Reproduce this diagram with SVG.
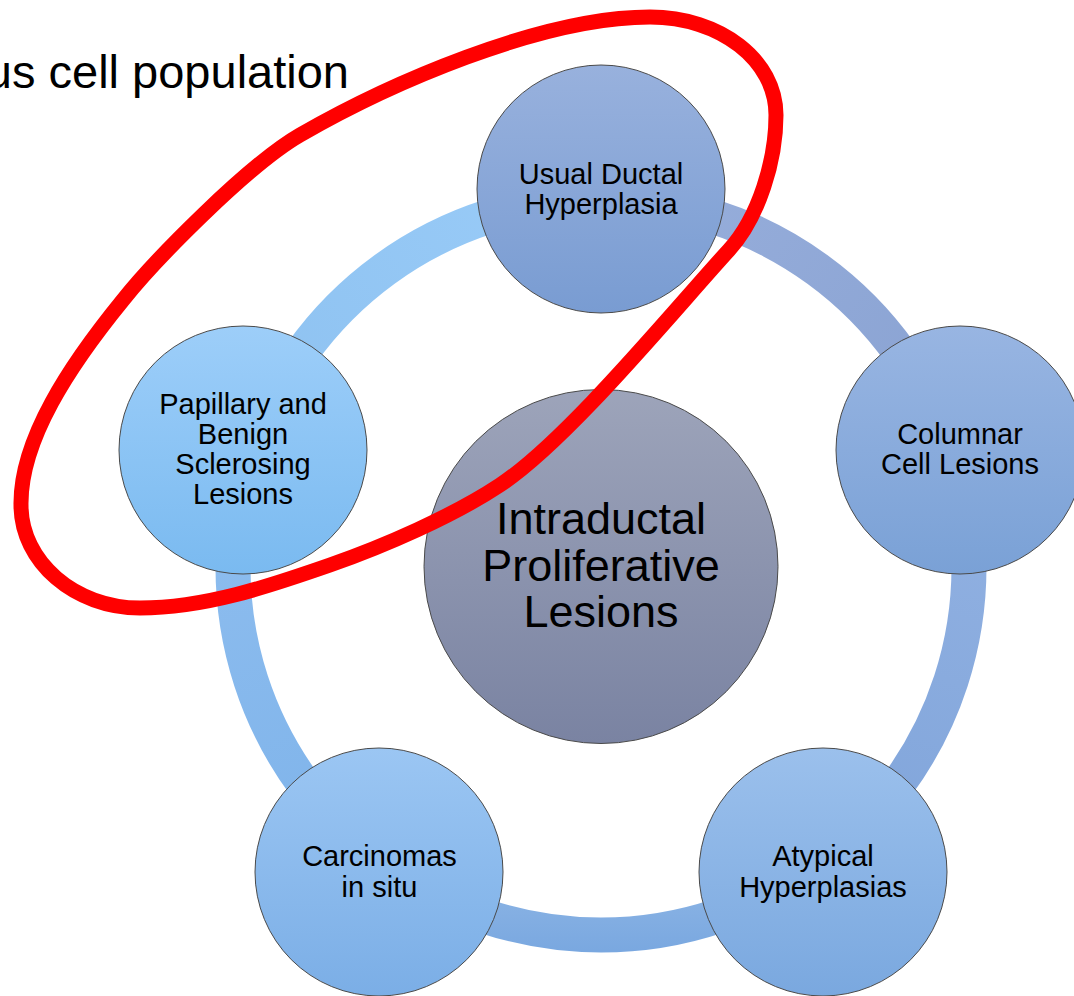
<svg xmlns="http://www.w3.org/2000/svg" width="1074" height="996" viewBox="0 0 1074 996">
<style>
.node{stroke:#4a4a4a;stroke-width:1}
.lbl{font-family:"Liberation Sans",Arial,sans-serif;font-size:29px;fill:#000;text-anchor:middle}
.big{font-family:"Liberation Sans",Arial,sans-serif;font-size:45px;fill:#000;text-anchor:middle}
.ring{fill:none;stroke-width:35}
</style>
<defs>
<linearGradient id="gUsual" x1="0" y1="0" x2="0" y2="1"><stop offset="0" stop-color="#98B1DD"/><stop offset="1" stop-color="#799CD2"/></linearGradient>
<linearGradient id="gCol" x1="0" y1="0" x2="0" y2="1"><stop offset="0" stop-color="#98B5E2"/><stop offset="1" stop-color="#7AA1D6"/></linearGradient>
<linearGradient id="gAty" x1="0" y1="0" x2="0" y2="1"><stop offset="0" stop-color="#9BC0EC"/><stop offset="1" stop-color="#7AA8DF"/></linearGradient>
<linearGradient id="gCar" x1="0" y1="0" x2="0" y2="1"><stop offset="0" stop-color="#9BC6F3"/><stop offset="1" stop-color="#7BAEE6"/></linearGradient>
<linearGradient id="gPap" x1="0" y1="0" x2="0" y2="1"><stop offset="0" stop-color="#9DCEF9"/><stop offset="1" stop-color="#7ABAF0"/></linearGradient>
<linearGradient id="gCen" x1="0" y1="0" x2="0" y2="1"><stop offset="0" stop-color="#9DA4BA"/><stop offset="1" stop-color="#7A83A2"/></linearGradient>
<linearGradient id="r1" gradientUnits="userSpaceOnUse" x1="601" y1="199" x2="951" y2="453"><stop offset="0" stop-color="#98AFDC"/><stop offset="1" stop-color="#89A2D2"/></linearGradient>
<linearGradient id="r2" gradientUnits="userSpaceOnUse" x1="951" y1="453" x2="817" y2="865"><stop offset="0" stop-color="#93B2E2"/><stop offset="1" stop-color="#7FA4DA"/></linearGradient>
<linearGradient id="r3" gradientUnits="userSpaceOnUse" x1="0" y1="890" x2="0" y2="950"><stop offset="0" stop-color="#8AB3E4"/><stop offset="1" stop-color="#7AA8E0"/></linearGradient>
<linearGradient id="r4" gradientUnits="userSpaceOnUse" x1="385" y1="865" x2="251" y2="453"><stop offset="0" stop-color="#7EB3EA"/><stop offset="1" stop-color="#8FBEEF"/></linearGradient>
<linearGradient id="r5" gradientUnits="userSpaceOnUse" x1="251" y1="453" x2="601" y2="199"><stop offset="0" stop-color="#8DC1F0"/><stop offset="1" stop-color="#9ACCF8"/></linearGradient>
</defs>
<rect width="1074" height="996" fill="#fff"/>
<text x="349" y="88" font-family="Liberation Sans, Arial, sans-serif" font-size="47" text-anchor="end" fill="#000">us cell population</text>
<g id="connectors">
<path class="ring" stroke="url(#r1)" d="M601,199 A368,368 0 0 1 951,453.3"/>
<path class="ring" stroke="url(#r2)" d="M951,453.3 A368,368 0 0 1 817.3,864.7"/>
<path class="ring" stroke="url(#r3)" d="M817.3,864.7 A368,368 0 0 1 384.7,864.7"/>
<path class="ring" stroke="url(#r4)" d="M384.7,864.7 A368,368 0 0 1 251,453.3"/>
<path class="ring" stroke="url(#r5)" d="M251,453.3 A368,368 0 0 1 601,199"/>
</g>
<g id="center">
<circle class="node" cx="601" cy="566.5" r="177" fill="url(#gCen)"/>
<text class="big" x="601" y="534">Intraductal</text>
<text class="big" x="601" y="580.5">Proliferative</text>
<text class="big" x="601" y="627">Lesions</text>
</g>
<g id="usual">
<circle class="node" cx="601" cy="189" r="124" fill="url(#gUsual)"/>
<text class="lbl" x="601" y="183.5">Usual Ductal</text>
<text class="lbl" x="601" y="213.5">Hyperplasia</text>
</g>
<g id="columnar">
<circle class="node" cx="960" cy="450" r="124" fill="url(#gCol)"/>
<text class="lbl" x="960" y="443.5">Columnar</text>
<text class="lbl" x="960" y="474">Cell Lesions</text>
</g>
<g id="atypical">
<circle class="node" cx="823" cy="872" r="124" fill="url(#gAty)"/>
<text class="lbl" x="823" y="866">Atypical</text>
<text class="lbl" x="823" y="896.5">Hyperplasias</text>
</g>
<g id="carcinomas">
<circle class="node" cx="379" cy="872" r="124" fill="url(#gCar)"/>
<text class="lbl" x="379.5" y="866">Carcinomas</text>
<text class="lbl" x="379.5" y="896.5">in situ</text>
</g>
<g id="papillary">
<circle class="node" cx="243" cy="450" r="124" fill="url(#gPap)"/>
<text class="lbl" x="243" y="413.5">Papillary and</text>
<text class="lbl" x="243" y="443.5">Benign</text>
<text class="lbl" x="243" y="473.5">Sclerosing</text>
<text class="lbl" x="243" y="503.5">Lesions</text>
</g>
<g id="highlight">
<path fill="none" stroke="#FF0000" stroke-width="15" stroke-linejoin="round" d="M650,17 C720,17 776,60 776,115 C776,160 759,217 729,250 C675,309 567,441 500,485 C452.5,516.4 383.8,546.2 330,565 C268.6,586.4 205,608 140,608 C75,608 21,562 21,505 C20,440 70,365 123,300 C154,261 248,165 300,135 C386.7,85 540,17 650,17 Z"/>
</g>
</svg>
